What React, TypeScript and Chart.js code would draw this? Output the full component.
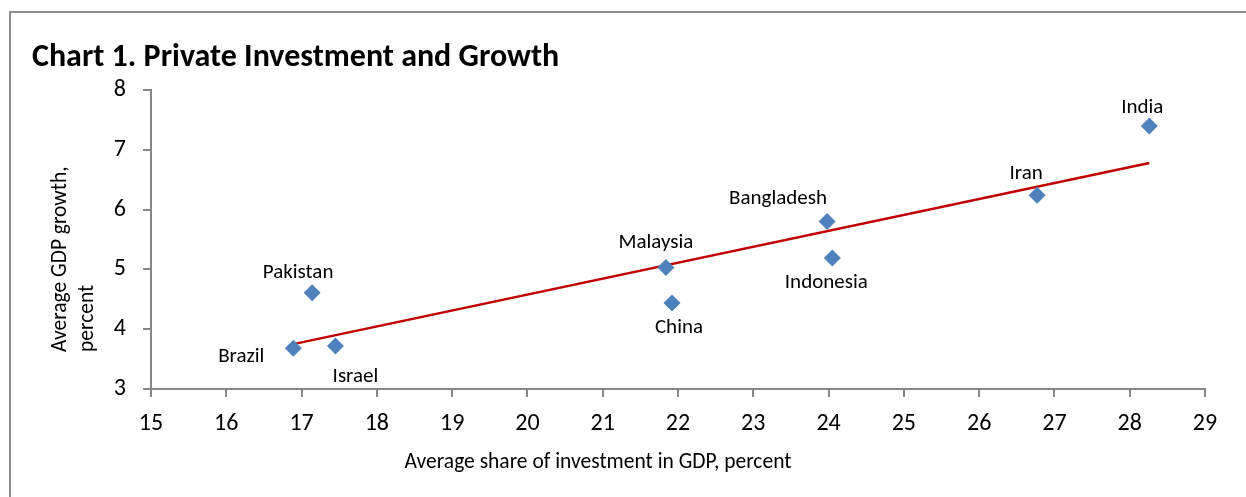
import React, { useEffect, useRef } from "react";
import { Chart, registerables } from "chart.js";

Chart.register(...registerables);

// ---- Data ----
const countries = ["Brazil", "Israel", "Pakistan", "Malaysia", "China", "Bangladesh", "Indonesia", "Iran", "India"];
const investmentShare = [16.89, 17.45, 17.14, 21.84, 21.92, 23.98, 24.05, 26.77, 28.26];
const gdpGrowth = [3.68, 3.72, 4.61, 5.03, 4.44, 5.8, 5.19, 6.24, 7.4];
const trendX = [16.89, 28.26];
const trendY = [3.75, 6.78];
const xTicks = [15, 16, 17, 18, 19, 20, 21, 22, 23, 24, 25, 26, 27, 28, 29];
const yTicks = [3, 4, 5, 6, 7, 8];

const chartTitle = "Chart 1. Private Investment and Growth";
const xTitle = "Average share of investment in GDP, percent";
const yTitle = ["Average GDP growth,", "percent"];

// ---- Styling ----
const FONT = "Carlito, Lato, sans-serif";
const AXIS = "#868686";
const BLUE = "#4F81BD";
const RED = "#C00000";
// label offsets (px) relative to each point, by country
const labelOffsets: Record<string, [number, number]> = {
  Brazil: [-52, 8],
  Israel: [20, 31],
  Pakistan: [-14, -20],
  Malaysia: [-10, -25],
  China: [7, 25],
  Bangladesh: [-49, -23],
  Indonesia: [-6, 25],
  Iran: [-11, -21],
  India: [-7, -18],
};

const decorPlugin = {
  id: "decor",
  afterDraw(chart: any) {
    const ctx = chart.ctx;
    ctx.save();
    // frame
    ctx.strokeStyle = "#8c8c8c";
    ctx.lineWidth = 2;
    ctx.beginPath();
    ctx.moveTo(10, chart.height);
    ctx.lineTo(10, 12);
    ctx.lineTo(chart.width, 12);
    ctx.stroke();

    // title
    ctx.fillStyle = "#000";
    ctx.textAlign = "left";
    ctx.textBaseline = "alphabetic";
    ctx.font = `bold 32px ${FONT}`;
    ctx.fillText(chartTitle, 32, 66);

    // x title
    ctx.font = `21.5px ${FONT}`;
    ctx.textAlign = "center";
    ctx.textBaseline = "middle";
    ctx.fillText(xTitle, 598, 463);

    // y title
    ctx.save();
    ctx.translate(0, 352);
    ctx.rotate(-Math.PI / 2);
    ctx.textAlign = "left";
    ctx.textBaseline = "middle";
    ctx.font = `21.5px ${FONT}`;
    ctx.fillText(yTitle[0], 0, 61);
    ctx.fillText(yTitle[1], 0, 88);
    ctx.restore();

    // point labels
    const meta = chart.getDatasetMeta(1);
    ctx.font = `21px ${FONT}`;
    ctx.textAlign = "center";
    ctx.textBaseline = "middle";
    meta.data.forEach((pt: any, i: number) => {
      const name = countries[i];
      const off = labelOffsets[name] || [0, -20];
      ctx.fillText(name, pt.x + off[0], pt.y + off[1]);
    });
    ctx.restore();
  },
};

export default function App() {
  const ref = useRef<HTMLCanvasElement | null>(null);
  useEffect(() => {
    document.body.style.margin = "0";
    if (!ref.current) return;
    const chart = new Chart(ref.current, {
      type: "scatter",
      data: {
        datasets: [
          {
            type: "line",
            label: "Trend",
            data: trendX.map((x, i) => ({ x, y: trendY[i] })),
            borderColor: RED,
            borderWidth: 2.5,
            pointRadius: 0,
            fill: false,
            order: 2,
          } as any,
          {
            label: "Countries",
            data: investmentShare.map((x, i) => ({ x, y: gdpGrowth[i] })),
            pointStyle: "rectRot",
            pointRadius: 8.5,
            pointHoverRadius: 8.5,
            backgroundColor: BLUE,
            borderColor: BLUE,
            borderWidth: 0,
            order: 1,
          },
        ],
      },
      options: {
        animation: false,
        responsive: false,
        maintainAspectRatio: false,
        events: [],
        layout: { padding: { left: 111, right: 41, top: 90, bottom: 58 } },
        plugins: {
          legend: { display: false },
          tooltip: { enabled: false },
          title: { display: false },
        },
        scales: {
          x: {
            type: "linear",
            min: 15,
            max: 29,
            afterFit: (s: any) => {
              s.height = 50;
            },
            afterBuildTicks: (s: any) => {
              s.ticks = xTicks.map((v) => ({ value: v }));
            },
            ticks: {
              font: { family: FONT, size: 24 },
              color: "#000",
              padding: 13,
              maxRotation: 0,
              autoSkip: false,
            },
            grid: {
              drawOnChartArea: false,
              drawTicks: true,
              tickLength: 8,
              color: AXIS,
              lineWidth: 2,
            },
            border: { color: AXIS, width: 2 },
          },
          y: {
            type: "linear",
            min: 3,
            max: 8,
            afterFit: (s: any) => {
              s.width = 40;
            },
            afterBuildTicks: (s: any) => {
              s.ticks = yTicks.map((v) => ({ value: v }));
            },
            ticks: {
              font: { family: FONT, size: 24 },
              color: "#000",
              padding: 17,
              autoSkip: false,
            },
            grid: {
              drawOnChartArea: false,
              drawTicks: true,
              tickLength: 8,
              color: AXIS,
              lineWidth: 2,
            },
            border: { color: AXIS, width: 2 },
          },
        },
      },
      plugins: [decorPlugin],
    });
    return () => chart.destroy();
  }, []);
  return (
    <div style={{ width: 1246, height: 497, background: "#fff" }}>
      <canvas ref={ref} width={1246} height={497} style={{ display: "block" }} />
    </div>
  );
}
